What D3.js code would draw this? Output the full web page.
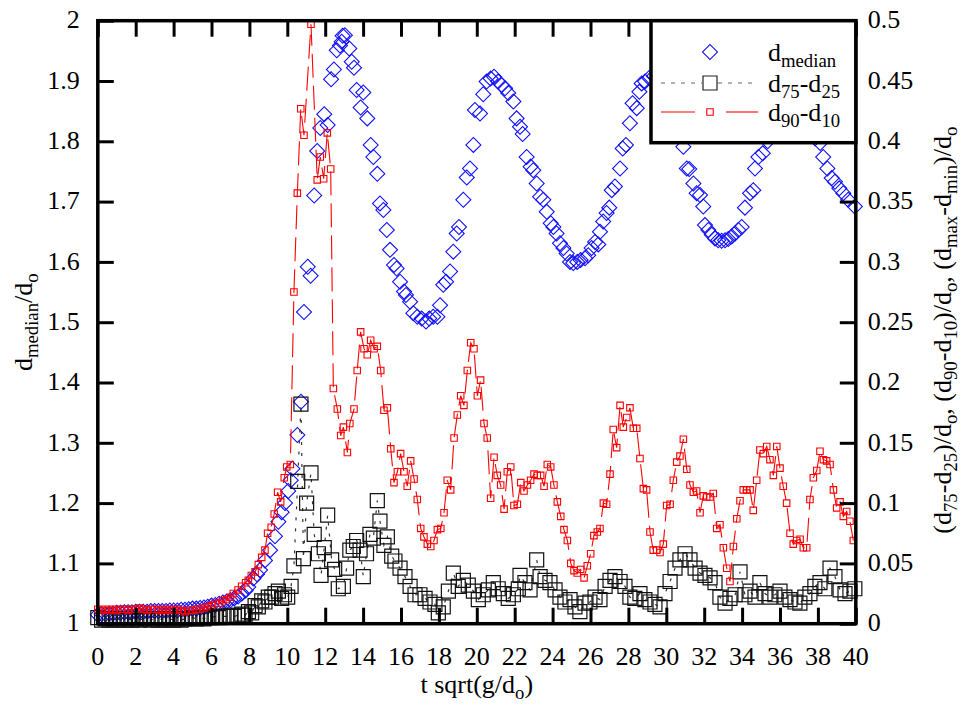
<!DOCTYPE html>
<html>
<head>
<meta charset="utf-8">
<script src="https://cdn.jsdelivr.net/npm/d3@7"></script>
<style>
  body { margin: 0; background: #fff; }
  #wrap { position: relative; width: 963px; height: 704px; }
  #chart { position: absolute; left: 0; top: 0; display: block; }
  #labels { position: absolute; left: 0; top: 0; width: 963px; height: 704px; pointer-events: none; }
  .lbl {
    position: absolute; white-space: nowrap; line-height: 1;
    font-family: 'Liberation Serif', 'Times New Roman', serif; color: #000;
  }
  .lbl .sub { font-size: 0.72em; position: relative; top: 0.3em; }
</style>
</head>
<body>
<div id="wrap">
  <svg id="chart" width="963" height="704"></svg>
  <div id="labels"></div>
</div>
<script>
// ---- data: [t sqrt(g/d0), value] ----
const medianSeries = [
  [0,1.015],[0.2,1.016],[0.4,1.016],[0.6,1.017],[0.8,1.017],[1.0,1.018],[1.2,1.018],[1.4,1.019],[1.6,1.019],[1.8,1.019],
  [2.0,1.020],[2.2,1.020],[2.4,1.020],[2.6,1.020],[2.8,1.021],[3.0,1.021],[3.2,1.021],[3.4,1.021],[3.6,1.021],[3.8,1.022],
  [4.0,1.022],[4.2,1.022],[4.4,1.023],[4.6,1.023],[4.8,1.024],[5.0,1.025],[5.2,1.025],[5.4,1.026],[5.6,1.027],[5.8,1.028],
  [6.0,1.030],[6.2,1.031],[6.4,1.033],[6.6,1.035],[6.8,1.037],[7.0,1.039],[7.2,1.042],[7.4,1.045],[7.6,1.050],[7.8,1.055],
  [7.94,1.061],[8.21,1.075],[8.4,1.082],[8.56,1.089],[8.82,1.105],[9.09,1.122],[9.35,1.145],[9.53,1.169],[9.7,1.185],[9.88,1.200],
  [10.05,1.220],[10.18,1.238],[10.27,1.257],[10.53,1.313],[10.72,1.368],[10.88,1.517],[11.08,1.592],[11.23,1.577],[11.42,1.710],[11.58,1.784],
  [11.74,1.822],[11.95,1.845],[12.13,1.827],[12.31,1.903],[12.46,1.919],[12.61,1.951],[12.78,1.959],[12.87,1.965],[12.92,1.975],[13.04,1.976],
  [13.27,1.954],[13.4,1.932],[13.52,1.922],[13.66,1.885],[13.87,1.856],[14.01,1.881],[14.22,1.838],[14.4,1.794],[14.54,1.774],[14.75,1.746],
  [14.89,1.697],[15.07,1.686],[15.25,1.653],[15.42,1.620],[15.63,1.595],[15.77,1.589],[15.95,1.567],[16.16,1.551],[16.26,1.545],[16.48,1.534],
  [16.65,1.515],[16.86,1.509],[17.09,1.506],[17.32,1.501],[17.49,1.506],[17.7,1.509],[17.92,1.509],[18.06,1.528],[18.23,1.562],[18.38,1.567],
  [18.59,1.584],[18.76,1.617],[18.94,1.647],[19.06,1.658],[19.29,1.703],[19.47,1.740],[19.64,1.755],[19.82,1.794],[19.9,1.852],[20.17,1.846],
  [20.34,1.878],[20.52,1.899],[20.73,1.904],[20.91,1.907],[21.13,1.899],[21.31,1.893],[21.49,1.888],[21.66,1.880],[21.93,1.866],[22.1,1.838],
  [22.28,1.824],[22.42,1.812],[22.63,1.774],[22.84,1.758],[22.98,1.752],[23.16,1.730],[23.34,1.708],[23.51,1.703],[23.69,1.683],[23.9,1.664],
  [24.04,1.658],[24.21,1.647],[24.39,1.631],[24.57,1.623],[24.74,1.614],[24.92,1.600],[25.09,1.598],[25.3,1.600],[25.48,1.603],[25.71,1.606],
  [25.88,1.611],[26.06,1.623],[26.24,1.633],[26.41,1.629],[26.5,1.650],[26.67,1.667],[26.85,1.681],[26.99,1.690],[27.12,1.719],[27.29,1.725],
  [27.56,1.755],[27.7,1.788],[27.87,1.794],[28.08,1.830],[28.22,1.863],[28.44,1.855],[28.58,1.882],[28.7,1.896],[28.88,1.899],[29.1,1.905],
  [29.35,1.908],[29.6,1.902],[29.85,1.890],[30.1,1.870],[30.35,1.845],[30.6,1.815],[30.9,1.791],[31.08,1.755],[31.21,1.754],[31.43,1.730],
  [31.6,1.714],[31.78,1.711],[31.95,1.692],[32.04,1.661],[32.22,1.653],[32.4,1.645],[32.57,1.639],[32.74,1.636],[32.92,1.635],[33.1,1.636],
  [33.27,1.638],[33.45,1.642],[33.63,1.647],[33.8,1.653],[33.98,1.658],[34.15,1.690],[34.42,1.714],[34.59,1.719],[34.68,1.755],[34.86,1.774],
  [35.09,1.780],[35.35,1.800],[35.6,1.815],[35.85,1.830],[36.1,1.840],[36.4,1.845],[36.7,1.840],[37.0,1.835],[37.3,1.825],[37.6,1.815],
  [37.85,1.805],[38.12,1.797],[38.28,1.774],[38.5,1.755],[38.73,1.739],[38.9,1.733],[39.13,1.722],[39.34,1.714],[39.6,1.703],[39.95,1.692]
];

const iqrSeries = [
  [0,0.005],[0.2,0.003],[0.4,0.004],[0.6,0.003],[0.8,0.004],[1.0,0.003],[1.2,0.004],[1.4,0.003],[1.6,0.004],[1.8,0.003],
  [2.0,0.004],[2.2,0.003],[2.4,0.004],[2.6,0.004],[2.8,0.003],[3.0,0.004],[3.2,0.003],[3.4,0.004],[3.6,0.003],[3.8,0.004],
  [4.0,0.003],[4.2,0.004],[4.4,0.003],[4.6,0.004],[4.8,0.004],[5.0,0.005],[5.2,0.004],[5.4,0.005],[5.6,0.004],[5.8,0.005],
  [6.0,0.005],[6.2,0.006],[6.4,0.005],[6.6,0.006],[6.8,0.006],[7.0,0.007],[7.2,0.006],[7.4,0.007],[7.6,0.008],[7.77,0.007],
  [7.95,0.010],[8.12,0.009],[8.3,0.015],[8.47,0.014],[8.65,0.019],[8.82,0.018],[9.0,0.022],[9.18,0.022],[9.35,0.025],[9.53,0.027],
  [9.7,0.021],[9.85,0.024],[10.02,0.022],[10.2,0.031],[10.35,0.048],[10.55,0.118],[10.72,0.182],[10.85,0.054],[11.02,0.100],[11.25,0.125],
  [11.42,0.074],[11.64,0.058],[11.78,0.040],[11.95,0.063],[12.13,0.090],[12.34,0.053],[12.5,0.045],[12.69,0.029],[12.96,0.031],[13.13,0.046],
  [13.3,0.061],[13.48,0.064],[13.66,0.069],[13.84,0.061],[14.01,0.039],[14.18,0.058],[14.36,0.074],[14.54,0.071],[14.75,0.102],[14.89,0.085],
  [15.1,0.065],[15.28,0.072],[15.51,0.056],[15.68,0.052],[15.95,0.046],[16.21,0.039],[16.48,0.031],[16.74,0.024],[17.0,0.024],[17.27,0.021],
  [17.53,0.018],[17.79,0.016],[17.97,0.009],[18.23,0.014],[18.5,0.027],[18.76,0.042],[19.02,0.031],[19.29,0.036],[19.55,0.032],[19.82,0.027],
  [20.08,0.020],[20.34,0.024],[20.61,0.028],[20.87,0.034],[21.13,0.029],[21.4,0.025],[21.66,0.021],[21.93,0.024],[22.19,0.029],[22.28,0.040],
  [22.54,0.034],[22.81,0.028],[23.16,0.053],[23.34,0.039],[23.6,0.036],[23.86,0.034],[24.13,0.028],[24.39,0.022],[24.65,0.018],[24.92,0.020],
  [25.18,0.014],[25.44,0.010],[25.71,0.017],[25.97,0.018],[26.24,0.022],[26.5,0.020],[26.77,0.031],[27.03,0.036],[27.29,0.039],[27.56,0.035],
  [27.82,0.031],[28.08,0.022],[28.34,0.021],[28.61,0.025],[28.87,0.020],[29.14,0.018],[29.4,0.016],[29.67,0.014],[29.93,0.025],[30.2,0.035],
  [30.46,0.046],[30.72,0.053],[30.99,0.058],[31.25,0.053],[31.52,0.046],[31.78,0.042],[32.04,0.040],[32.31,0.038],[32.57,0.034],[32.83,0.022],
  [33.1,0.017],[33.36,0.021],[33.63,0.024],[33.89,0.043],[34.15,0.024],[34.42,0.027],[34.68,0.022],[34.94,0.034],[35.21,0.025],[35.47,0.022],
  [35.73,0.024],[36.0,0.027],[36.26,0.022],[36.53,0.020],[36.79,0.018],[37.05,0.017],[37.31,0.022],[37.58,0.025],[37.84,0.031],[38.11,0.034],
  [38.37,0.029],[38.64,0.046],[38.9,0.039],[39.17,0.028],[39.43,0.025],[39.69,0.027],[39.95,0.029]
];

const decileSeries = [
  [0,0.012],[0.2,0.011],[0.4,0.012],[0.6,0.011],[0.8,0.012],[1.0,0.011],[1.2,0.012],[1.4,0.012],[1.6,0.011],[1.8,0.012],
  [2.0,0.012],[2.2,0.013],[2.4,0.012],[2.6,0.011],[2.8,0.012],[3.0,0.012],[3.2,0.011],[3.4,0.012],[3.6,0.011],[3.8,0.012],
  [4.0,0.011],[4.2,0.012],[4.4,0.011],[4.6,0.010],[4.8,0.011],[5.0,0.011],[5.2,0.012],[5.4,0.012],[5.6,0.013],[5.8,0.014],
  [6.0,0.015],[6.19,0.017],[6.4,0.017],[6.6,0.019],[6.8,0.020],[7.0,0.022],[7.15,0.025],[7.4,0.028],[7.59,0.031],[7.8,0.034],
  [7.94,0.036],[8.1,0.040],[8.3,0.043],[8.47,0.049],[8.65,0.055],[8.82,0.061],[8.96,0.075],[9.15,0.080],[9.31,0.091],[9.49,0.109],
  [9.65,0.101],[9.84,0.121],[9.97,0.130],[10.16,0.132],[10.35,0.275],[10.53,0.357],[10.71,0.427],[10.88,0.405],[11.25,0.497],[11.58,0.368],
  [11.74,0.387],[11.92,0.369],[12.11,0.407],[12.29,0.377],[12.43,0.195],[12.64,0.178],[12.82,0.156],[12.96,0.163],[13.17,0.142],[13.3,0.166],
  [13.52,0.178],[13.69,0.210],[13.87,0.242],[14.05,0.228],[14.22,0.223],[14.4,0.235],[14.58,0.228],[14.75,0.230],[14.93,0.210],[15.1,0.177],
  [15.28,0.179],[15.46,0.145],[15.63,0.117],[15.81,0.126],[15.98,0.141],[16.16,0.126],[16.33,0.114],[16.51,0.135],[16.69,0.120],[16.86,0.103],
  [17.04,0.079],[17.21,0.072],[17.39,0.066],[17.57,0.064],[17.74,0.069],[17.92,0.078],[18.1,0.079],[18.27,0.092],[18.44,0.119],[18.62,0.111],
  [18.8,0.154],[18.97,0.173],[19.15,0.189],[19.32,0.181],[19.5,0.210],[19.68,0.233],[19.85,0.228],[20.03,0.189],[20.2,0.202],[20.38,0.166],
  [20.55,0.154],[20.73,0.104],[20.91,0.138],[21.08,0.123],[21.26,0.115],[21.44,0.095],[21.61,0.126],[21.79,0.130],[21.96,0.098],[22.14,0.099],
  [22.32,0.117],[22.49,0.110],[22.67,0.115],[22.84,0.119],[23.02,0.124],[23.19,0.123],[23.37,0.123],[23.55,0.114],[23.72,0.132],[23.9,0.130],
  [24.07,0.115],[24.25,0.101],[24.43,0.089],[24.6,0.078],[24.78,0.069],[24.96,0.050],[25.13,0.044],[25.3,0.042],[25.48,0.045],[25.66,0.038],
  [25.83,0.048],[26.01,0.058],[26.18,0.073],[26.36,0.076],[26.5,0.079],[26.68,0.100],[26.85,0.099],[27.03,0.124],[27.2,0.161],[27.38,0.146],
  [27.56,0.181],[27.73,0.163],[27.91,0.171],[28.08,0.179],[28.26,0.162],[28.44,0.162],[28.61,0.137],[28.79,0.112],[28.96,0.111],[29.14,0.076],
  [29.31,0.061],[29.49,0.061],[29.67,0.059],[29.84,0.066],[30.02,0.098],[30.2,0.099],[30.37,0.119],[30.55,0.134],[30.72,0.139],[30.9,0.153],
  [31.08,0.128],[31.25,0.115],[31.43,0.109],[31.6,0.110],[31.78,0.092],[31.95,0.106],[32.13,0.105],[32.31,0.105],[32.48,0.108],[32.66,0.079],
  [32.83,0.082],[33.01,0.063],[33.19,0.046],[33.36,0.035],[33.54,0.064],[33.72,0.087],[33.89,0.102],[34.06,0.111],[34.24,0.111],[34.42,0.111],
  [34.59,0.094],[34.77,0.119],[34.94,0.144],[35.12,0.141],[35.3,0.147],[35.47,0.136],[35.65,0.123],[35.83,0.147],[36.0,0.129],[36.17,0.114],
  [36.35,0.100],[36.53,0.075],[36.7,0.066],[36.88,0.069],[37.06,0.070],[37.23,0.063],[37.41,0.063],[37.58,0.103],[37.76,0.121],[37.94,0.127],
  [38.11,0.143],[38.29,0.136],[38.46,0.135],[38.64,0.132],[38.82,0.111],[38.99,0.096],[39.17,0.101],[39.34,0.089],[39.52,0.093],[39.69,0.085],
  [39.87,0.069]
];

// ---- axis tick values ----
const xTickValues = [0,2,4,6,8,10,12,14,16,18,20,22,24,26,28,30,32,34,36,38,40];
const leftTickValues = [1,1.1,1.2,1.3,1.4,1.5,1.6,1.7,1.8,1.9,2];
const rightTickValues = [0,0.05,0.1,0.15,0.2,0.25,0.3,0.35,0.4,0.45,0.5];

// ---- layout ----
const plot = { left: 97.8, right: 855.8, top: 20.7, bottom: 623.7 };
const FONT = 26;
const ASC = 0.8375 * FONT;   // baseline offset from the top of a line-height:1 box

const svg = d3.select("#chart");
const labels = d3.select("#labels");

const x = d3.scaleLinear().domain([0, 40]).range([plot.left, plot.right]);
const yL = d3.scaleLinear().domain([1, 2]).range([plot.bottom, plot.top]);
const yR = d3.scaleLinear().domain([0, 0.5]).range([plot.bottom, plot.top]);
const fmt = d3.format("~g");

// one text label; parts = [[string, isSubscript], ...]
function addLabel(parts, { left, baseline, shift = "0", rotate = false }) {
  const div = labels.append("div").attr("class", "lbl").style("font-size", FONT + "px");
  parts.forEach(([s, sub]) => {
    if (sub) div.append("span").attr("class", "sub").text(s);
    else div.append("span").text(s);
  });
  if (rotate) {
    div.style("left", "0px").style("top", "0px")
      .style("transform-origin", "0 0")
      .style("transform", `translate(${left}px,${baseline}px) rotate(-90deg) translate(-50%,${-ASC}px)`);
  } else {
    div.style("left", left + "px").style("top", (baseline - ASC) + "px")
      .style("transform", `translateX(${shift})`);
  }
  return div;
}

// ---- series ----
const squareSym = (area) => d3.symbol().type(d3.symbolSquare).size(area)();

// d_median (left axis): open blue diamonds
svg.append("g")
  .selectAll("path")
  .data(medianSeries)
  .join("path")
  .attr("d", squareSym(112))
  .attr("transform", d => `translate(${x(d[0])},${yL(d[1])}) rotate(45)`)
  .attr("fill", "none")
  .attr("stroke", "#1010ff")
  .attr("stroke-width", 1.1);

// d75-d25 (right axis): dashed line + large open squares
svg.append("path")
  .datum(iqrSeries)
  .attr("d", d3.line().x(d => x(d[0])).y(d => yR(d[1])))
  .attr("fill", "none")
  .attr("stroke", "#333")
  .attr("stroke-width", 1.2)
  .attr("stroke-dasharray", "3,8");

svg.append("g")
  .selectAll("path")
  .data(iqrSeries)
  .join("path")
  .attr("d", squareSym(196))
  .attr("transform", d => `translate(${x(d[0])},${yR(d[1])})`)
  .attr("fill", "none")
  .attr("stroke", "#111")
  .attr("stroke-width", 1.2);

// d90-d10 (right axis): long-dash red line + small red squares
svg.append("path")
  .datum(decileSeries)
  .attr("d", d3.line().x(d => x(d[0])).y(d => yR(d[1])))
  .attr("fill", "none")
  .attr("stroke", "#ff0000")
  .attr("stroke-width", 1.1)
  .attr("stroke-dasharray", "24,8");

svg.append("g")
  .selectAll("path")
  .data(decileSeries)
  .join("path")
  .attr("d", squareSym(42))
  .attr("transform", d => `translate(${x(d[0])},${yR(d[1])})`)
  .attr("fill", "none")
  .attr("stroke", "#ff0000")
  .attr("stroke-width", 1.1);

// ---- axes: inward tick marks drawn by d3-axis ----
function styleAxis(g) {
  g.select(".domain").remove();
  g.selectAll(".tick text").remove();
  g.selectAll(".tick line").attr("stroke", "#000").attr("stroke-width", 3);
}

svg.append("g")
  .attr("transform", `translate(0,${plot.bottom})`)
  .call(d3.axisBottom(x).tickValues(xTickValues).tickSize(-16))
  .call(styleAxis);

svg.append("g")
  .attr("transform", `translate(0,${plot.top})`)
  .call(d3.axisTop(x).tickValues(xTickValues).tickSize(-16))
  .call(styleAxis);

svg.append("g")
  .attr("transform", `translate(${plot.left},0)`)
  .call(d3.axisLeft(yL).tickValues(leftTickValues).tickSize(-16))
  .call(styleAxis);

svg.append("g")
  .attr("transform", `translate(${plot.right},0)`)
  .call(d3.axisRight(yR).tickValues(rightTickValues).tickSize(-16))
  .call(styleAxis);

// frame
svg.append("rect")
  .attr("x", plot.left).attr("y", plot.top)
  .attr("width", plot.right - plot.left).attr("height", plot.bottom - plot.top)
  .attr("fill", "none").attr("stroke", "#000").attr("stroke-width", 3.5);

// ---- tick labels ----
xTickValues.forEach(v => addLabel([[String(v), false]], { left: x(v), baseline: 666, shift: "-50%" }));
leftTickValues.forEach(v => addLabel([[fmt(v), false]], { left: plot.left - 18, baseline: yL(v) + 8.5, shift: "-100%" }));
rightTickValues.forEach(v => addLabel([[fmt(v), false]], { left: plot.right + 12, baseline: yR(v) + 8.5 }));

// ---- axis titles ----
addLabel([["t sqrt(g/d", false], ["o", true], [")", false]],
  { left: (plot.left + plot.right) / 2, baseline: 694, shift: "-50%" });

addLabel([["d", false], ["median", true], ["/d", false], ["o", true]],
  { left: 33, baseline: (plot.top + plot.bottom) / 2, rotate: true });

addLabel([["(d", false], ["75", true], ["-d", false], ["25", true], [")/d", false], ["o", true],
          [", (d", false], ["90", true], ["-d", false], ["10", true], [")/d", false], ["o", true],
          [", (d", false], ["max", true], ["-d", false], ["min", true], [")/d", false], ["o", true]],
  { left: 952, baseline: (plot.top + plot.bottom) / 2 + 8, rotate: true });

// ---- legend ----
const legend = svg.append("g");
legend.append("rect")
  .attr("x", 651).attr("y", plot.top)
  .attr("width", plot.right - 651).attr("height", 122)
  .attr("fill", "#fff").attr("stroke", "#000").attr("stroke-width", 3.5);

const legendRows = [
  { y: 52, label: [["d", false], ["median", true]] },
  { y: 83, label: [["d", false], ["75", true], ["-d", false], ["25", true]] },
  { y: 112, label: [["d", false], ["90", true], ["-d", false], ["10", true]] }
];
const mx = 710;

// row 1: diamond only
legend.append("path")
  .attr("d", squareSym(112))
  .attr("transform", `translate(${mx},${legendRows[0].y}) rotate(45)`)
  .attr("fill", "none").attr("stroke", "#1010ff").attr("stroke-width", 1.1);

// row 2: grey dashes + large square
[[661, 702], [718, 758]].forEach(([a, b]) => {
  legend.append("line")
    .attr("x1", a).attr("x2", b).attr("y1", legendRows[1].y).attr("y2", legendRows[1].y)
    .attr("stroke", "#666").attr("stroke-width", 1.1).attr("stroke-dasharray", "4,6");
});
legend.append("path")
  .attr("d", squareSym(196))
  .attr("transform", `translate(${mx},${legendRows[1].y})`)
  .attr("fill", "none").attr("stroke", "#222").attr("stroke-width", 1.2);

// row 3: red long dashes + small square
[[661, 695], [726, 758]].forEach(([a, b]) => {
  legend.append("line")
    .attr("x1", a).attr("x2", b).attr("y1", legendRows[2].y).attr("y2", legendRows[2].y)
    .attr("stroke", "#ff0000").attr("stroke-width", 1.1);
});
legend.append("path")
  .attr("d", squareSym(42))
  .attr("transform", `translate(${mx},${legendRows[2].y})`)
  .attr("fill", "none").attr("stroke", "#ff0000").attr("stroke-width", 1.1);

legendRows.forEach(r => addLabel(r.label, { left: 768, baseline: r.y + 10 }));
</script>
</body>
</html>
